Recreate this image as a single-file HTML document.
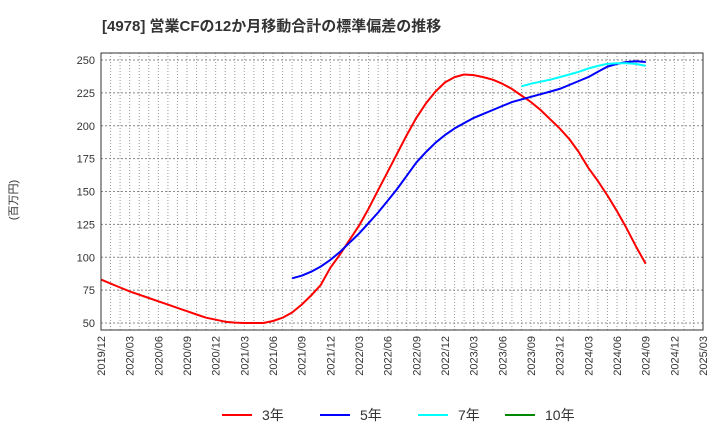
<!DOCTYPE html>
<html><head><meta charset="utf-8"><style>
body{margin:0;background:#fff;font-family:"Liberation Sans","Noto Sans CJK JP",sans-serif}
svg text{font-family:"Liberation Sans","Noto Sans CJK JP",sans-serif}
</style></head><body>
<svg id="c" width="720" height="440">
<text x="102" y="31" font-size="15" font-weight="bold" fill="#333">[4978]  営業CFの12か月移動合計の標準偏差の推移</text>
<text transform="translate(17,200) rotate(-90)" text-anchor="middle" font-size="11" fill="#333">(百万円)</text>
<g id="grid"></g><g id="axes"></g><g id="series"></g>
<rect x="101" y="53" width="602" height="277" fill="none" stroke="#333" stroke-width="1"/>
<g>
<line x1="222" y1="415" x2="252" y2="415" stroke="#f00" stroke-width="2"/><text x="262" y="420" font-size="14" fill="#333">3年</text>
<line x1="320" y1="415" x2="350" y2="415" stroke="#00f" stroke-width="2"/><text x="360" y="420" font-size="14" fill="#333">5年</text>
<line x1="418" y1="415" x2="448" y2="415" stroke="#0ff" stroke-width="2"/><text x="458" y="420" font-size="14" fill="#333">7年</text>
<line x1="505" y1="415" x2="535" y2="415" stroke="#080" stroke-width="2"/><text x="545" y="420" font-size="14" fill="#333">10年</text>
</g>
</svg>
<script>
const xLabels=["2019/12","2020/03","2020/06","2020/09","2020/12","2021/03","2021/06","2021/09","2021/12","2022/03","2022/06","2022/09","2022/12","2023/03","2023/06","2023/09","2023/12","2024/03","2024/06","2024/09","2024/12","2025/03"];
const yTicks=[50,75,100,125,150,175,200,225,250];
const red3=[83,80,77,74,71.5,69,66.5,64,61.5,59,56.5,54,52.5,51,50.3,50,50,50,51.5,54,58,64,71,79,92,102,113,124,137,151,165,179,193,206,217,226,233,237,239,238.5,237,235,232,228,223,218,212,205,198,190,180,168,158,147,135,122,108,95];
const blue5Start=20;
const blue5=[84,86,89,93,98,104,111,118,126,134,143,152,162,172,180,187,193,198,202,206,209,212,215,218,220,222,224,226,228,231,234,237,241,245,247,248.5,249,248.5];
const cyan7Start=44;
const cyan7=[230,232,233.5,235,237,239,241,243.5,245.5,247,247.5,247.5,247,245.5];
const X0=101,X1=703,Y250=60,Y50=323;
const xs=m=>X0+m*(X1-X0)/63;
const ys=v=>Y50-(v-50)*(Y50-Y250)/200;
const NS="http://www.w3.org/2000/svg";
const grid=document.getElementById('grid'),axes=document.getElementById('axes'),ser=document.getElementById('series');
function mk(t,a,p){const e=document.createElementNS(NS,t);for(const k in a)e.setAttribute(k,a[k]);p.appendChild(e);return e;}
for(let m=1;m<63;m++){const l=mk('line',{x1:xs(m),x2:xs(m),y1:53,y2:330,stroke:'#999','stroke-dasharray':'1,2','stroke-width':1},grid);

}
yTicks.forEach(v=>{const l=mk('line',{x1:101,x2:703,y1:ys(v),y2:ys(v),stroke:'#888','stroke-dasharray':'2,2','stroke-width':1},grid);

});
yTicks.forEach(v=>{const t=mk('text',{x:95,y:ys(v)+4,'text-anchor':'end','font-size':11,fill:'#333'},axes);t.textContent=v;

});
xLabels.forEach((s,i)=>{const x=xs(i*3);const t=mk('text',{transform:`translate(${x+4},336) rotate(-90)`,'text-anchor':'end','font-size':11,fill:'#333'},axes);t.textContent=s;

});
function line(arr,start,col,name){const d=arr.map((v,i)=>(i?'L':'M')+xs(start+i).toFixed(1)+' '+ys(v).toFixed(1)).join('');
const p=mk('path',{d:d,fill:'none',stroke:col,'stroke-width':2,'stroke-linejoin':'round'},ser);

}
line(red3,0,'#f00','series-3y');
line(blue5,blue5Start,'#00f','series-5y');
line(cyan7,cyan7Start,'#0ff','series-7y');
</script>
</body></html>
